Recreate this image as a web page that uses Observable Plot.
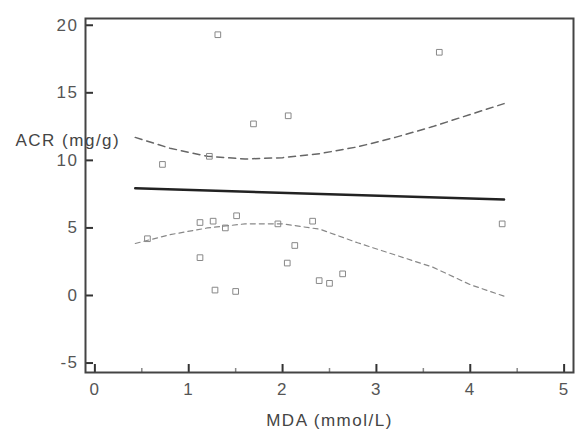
<!DOCTYPE html>
<html>
<head>
<meta charset="utf-8">
<script src="https://cdn.jsdelivr.net/npm/d3@7"></script>
<script src="https://cdn.jsdelivr.net/npm/@observablehq/plot@0.6"></script>
<style>
  html, body { margin: 0; padding: 0; background: #fff; }
</style>
</head>
<body>
<div id="chart"></div>
<script>
// Scatter data (MDA mmol/L vs ACR mg/g)
const mda = [1.31, 3.67, 1.69, 2.06, 0.72, 1.22, 0.56, 1.12, 1.26, 1.39, 1.51, 1.12, 1.28, 1.50, 1.95, 2.32, 2.13, 2.05, 2.39, 2.50, 2.64, 4.34];
const acr = [19.3, 18.0, 12.7, 13.3, 9.7, 10.3, 4.2, 5.4, 5.5, 5.0, 5.9, 2.8, 0.4, 0.3, 5.3, 5.5, 3.7, 2.4, 1.1, 0.9, 1.6, 5.3];

// Regression line
const fitX = [0.43, 4.36];
const fitY = [7.93, 7.11];

// Confidence band
const bandX = [0.43, 0.8, 1.2, 1.6, 2.0, 2.4, 2.8, 3.2, 3.6, 4.0, 4.36];
const bandUpper = [11.7, 10.9, 10.3, 10.1, 10.2, 10.5, 11.0, 11.7, 12.5, 13.4, 14.2];
const bandLower = [3.85, 4.5, 5.0, 5.3, 5.3, 4.9, 3.9, 3.0, 2.1, 0.8, -0.05];

// Axes
const xTicks = [0, 1, 2, 3, 4, 5];
const xMinorTicks = [0.5, 1.5, 2.5, 3.5, 4.5];
const yTicks = [-5, 0, 5, 10, 15, 20];
const xLabel = "MDA (mmol/L)";
const yLabel = "ACR (mg/g)";

const W = 575, H = 431;
const mL = 85, mR = 2, mT = 18, mB = 59;
const frameH = H - mT - mB;
const frameW = W - mL - mR;

const points = mda.map((x, i) => ({x, y: acr[i]}));
const fit = fitX.map((x, i) => ({x, y: fitY[i]}));
const upper = bandX.map((x, i) => ({x, y: bandUpper[i]}));
const lower = bandX.map((x, i) => ({x, y: bandLower[i]}));

const chart = Plot.plot({
  width: W,
  height: H,
  marginLeft: mL,
  marginRight: mR,
  marginTop: mT,
  marginBottom: mB,
  x: {domain: [-0.1, 5.1]},
  y: {domain: [-5.7, 20.5]},
  style: {fontFamily: "'Liberation Sans', Arial, sans-serif", fontSize: "17px", color: "#444", background: "#fff", letterSpacing: "1.5px"},
  marks: [
    Plot.axisX(xTicks, {tickSize: 0, tickPadding: 10, label: null, fill: "#555", tickFormat: d => String(d)}),
    Plot.axisY(yTicks, {tickSize: 0, tickPadding: 7, label: null, fill: "#555", tickFormat: d => String(d)}),
    Plot.tickX(xTicks, {x: d => d, insetTop: frameH - 8, stroke: "#333", strokeWidth: 2}),
    Plot.tickX(xMinorTicks, {x: d => d, insetTop: frameH - 4, stroke: "#888", strokeWidth: 1.5}),
    Plot.tickY(yTicks, {y: d => d, insetRight: frameW - 8, stroke: "#333", strokeWidth: 2}),
    Plot.frame({stroke: "#444", strokeWidth: 2}),
    Plot.line(upper, {x: "x", y: "y", stroke: "#666", strokeWidth: 1.5, strokeDasharray: "7,5"}),
    Plot.line(lower, {x: "x", y: "y", stroke: "#888", strokeWidth: 1.2, strokeDasharray: "5,4"}),
    Plot.line(fit, {x: "x", y: "y", stroke: "#222", strokeWidth: 2.5}),
    Plot.dot(points, {x: "x", y: "y", symbol: "square", r: 3.2, stroke: "#888", fill: "none", strokeWidth: 1}),
    Plot.text([xLabel], {text: d => d, frameAnchor: "bottom", dy: 48, lineAnchor: "middle", fill: "#444", letterSpacing: "1.9px"}),
    Plot.text([yLabel], {text: d => d, frameAnchor: "top-left", dx: -70, dy: 122, textAnchor: "start", lineAnchor: "middle", fill: "#444"})
  ]
});
document.getElementById("chart").appendChild(chart);
</script>
</body>
</html>
